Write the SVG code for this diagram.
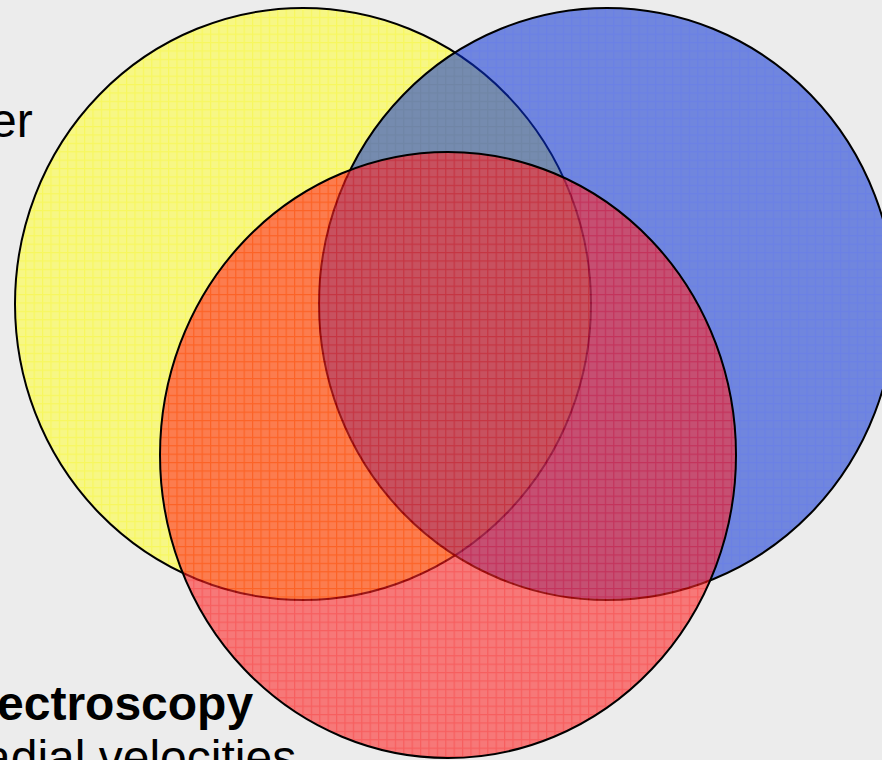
<svg xmlns="http://www.w3.org/2000/svg" width="882" height="760" viewBox="0 0 882 760">
<defs>
<pattern id="pY" width="8.4" height="8.4" patternUnits="userSpaceOnUse">
<rect width="8.4" height="8.4" fill="#ffff40"/>
<rect width="8.4" height="1.2" fill="#ffff00"/>
<rect width="1.2" height="8.4" fill="#ffff00"/>
</pattern>
<pattern id="pB" width="8.4" height="8.4" patternUnits="userSpaceOnUse">
<rect width="8.4" height="8.4" fill="#0a32d2"/>
<rect width="8.4" height="1.2" fill="#0028e0"/>
<rect width="1.2" height="8.4" fill="#0028e0"/>
</pattern>
<pattern id="pR" width="8.4" height="8.4" patternUnits="userSpaceOnUse">
<rect width="8.4" height="8.4" fill="#ff2a2a"/>
<rect width="8.4" height="1.2" fill="#ff0000"/>
<rect width="1.2" height="8.4" fill="#ff0000"/>
</pattern>
</defs>
<style>
.c{stroke:#000;stroke-width:2}
.t{font-family:"Liberation Sans",Arial,sans-serif;font-size:48px;fill:#000}
.b{font-weight:bold}
</style>
<rect width="882" height="760" fill="#ececec"/>
<g id="yellow"><ellipse cx="303" cy="304" rx="288" ry="296" fill="url(#pY)" fill-opacity="0.6" class="c"/></g>
<g id="blue"><ellipse cx="607" cy="304" rx="288" ry="296" fill="url(#pB)" fill-opacity="0.55" class="c"/></g>
<g id="red"><ellipse cx="448" cy="455" rx="288" ry="303" fill="url(#pR)" fill-opacity="0.6" class="c"/></g>
<g id="labels">
<text class="t" x="-10" y="137">er</text>
<text class="t b" x="-3" y="720">ectroscopy</text>
<text class="t" x="-16" y="774">adial velocities</text>
</g>
</svg>
